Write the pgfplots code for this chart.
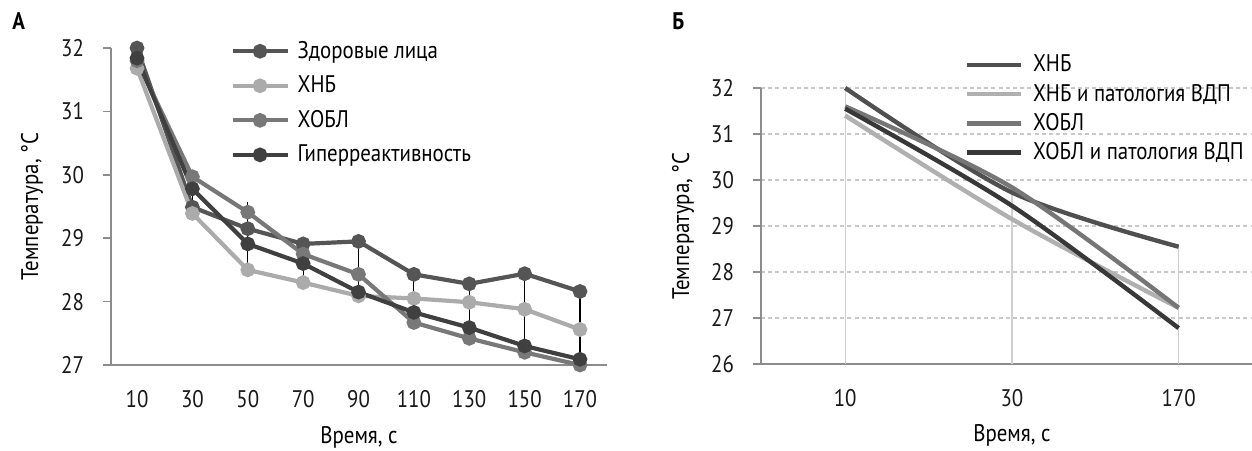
\documentclass[border=0pt]{standalone}
\usepackage{pgfplots}
\pgfplotsset{compat=1.18}
\usepackage{fontspec}
\setmainfont{PT Sans}[FakeStretch=0.87]
\definecolor{axisgray}{HTML}{8C8C8C}
\definecolor{gridgray}{HTML}{C8C8C8}
\definecolor{dropgray}{HTML}{D0D0D0}
\definecolor{cHealthy}{HTML}{555555}
\definecolor{cHNB}{HTML}{ABABAB}
\definecolor{cCOPD}{HTML}{787878}
\definecolor{cHyper}{HTML}{404040}
\definecolor{rHNB}{HTML}{505050}
\definecolor{rHNBv}{HTML}{B0B0B0}
\definecolor{rCOPD}{HTML}{767676}
\definecolor{rCOPDv}{HTML}{383838}
\newcommand{\chartfont}{\fontsize{12}{14}\selectfont}
\pgfplotsset{
  common/.style={
    scale only axis,
    anchor=south west,
    axis x line=bottom, axis y line=left,
    axis line style={-, draw=axisgray, line width=0.8pt},
    tick align=outside,
    major tick length=4pt,
    x tick style={draw=none},
    y tick style={draw=axisgray, line width=0.8pt},
    /pgf/number format/assume math mode=true,
    tick label style={font=\chartfont, text=black!90},
    xticklabel style={yshift=-5pt},
    yticklabel style={xshift=-6pt},
    label style={font=\chartfont, text=black!90},
    legend cell align=left,
  },
}
\begin{document}
\begin{tikzpicture}[font=\chartfont]
\useasboundingbox (0,0) rectangle (626pt,225pt);
\node[anchor=base west, inner sep=0pt, font=\chartfont\bfseries] at (6pt,210pt) {А};
\node[anchor=base west, inner sep=0pt, font=\chartfont\bfseries] at (336pt,210pt) {Б};

% ---------- Panel A ----------
\begin{axis}[common,
  at={(55.5pt,42.5pt)}, width=248pt, height=158.5pt,
  xmin=0.6, xmax=179.75, ymin=27, ymax=32,
  xtick={10,30,50,70,90,110,130,150,170},
  ytick={27,28,29,30,31,32},
  clip=false,
  every axis y label/.style={at={(axis description cs:-0.159,0.5)}, rotate=90, anchor=center},
  every axis x label/.style={at={(axis description cs:0.5,-0.228)}, anchor=center},
  ylabel={Температура, °C},
  xlabel={Время, с},
  legend style={at={(0.24,1.029)}, anchor=north west, draw=none, fill=none,
    font=\chartfont, row sep=5.3pt, inner sep=0pt,
    nodes={inner sep=1pt},
    /tikz/every odd column/.append style={column sep=3pt}},
  legend image code/.code={\draw[#1, mark repeat=2, mark phase=2] plot coordinates {(0pt,0pt) (13.75pt,0pt) (27.5pt,0pt)};},
  every axis plot/.append style={line width=2.1pt, mark=*, mark size=2.6pt},
]
\addplot[cHealthy, mark options={fill=cHealthy, draw=cHealthy}] coordinates {
 (10,32.00) (30,29.49) (50,29.15) (70,28.91) (90,28.95) (110,28.43) (130,28.28) (150,28.44) (170,28.16)};
\addlegendentry{Здоровые лица}
\addplot[cHNB, mark options={fill=cHNB, draw=cHNB}] coordinates {
 (10,31.68) (30,29.39) (50,28.50) (70,28.30) (90,28.09) (110,28.05) (130,27.99) (150,27.88) (170,27.56)};
\addlegendentry{ХНБ}
\addplot[cCOPD, mark options={fill=cCOPD, draw=cCOPD}] coordinates {
 (10,31.80) (30,29.97) (50,29.41) (70,28.75) (90,28.43) (110,27.67) (130,27.42) (150,27.20) (170,27.00)};
\addlegendentry{ХОБЛ}
\addplot[cHyper, mark options={fill=cHyper, draw=cHyper}] coordinates {
 (10,31.84) (30,29.78) (50,28.91) (70,28.60) (90,28.15) (110,27.83) (130,27.59) (150,27.30) (170,27.09)};
\addlegendentry{Гиперреактивность}
% range bars
\addplot[draw=none, mark=none, forget plot,
  error bars/.cd, y dir=plus, y explicit, error mark=none,
  error bar style={black, line width=0.6pt}] coordinates {
 (10,31.72) += (0,0.28)
 (30,29.42) += (0,0.50)
 (50,28.49) += (0,1.08)
 (70,28.33) += (0,0.50)
 (90,28.12) += (0,0.83)
 (110,27.67) += (0,0.76)
 (130,27.43) += (0,0.85)
 (150,27.20) += (0,1.24)
 (170,27.00) += (0,1.16)};
\end{axis}

% ---------- Panel B ----------
\begin{axis}[common,
  at={(380.5pt,43pt)}, width=245.5pt, height=138pt,
  xmin=-0.505, xmax=2.44, ymin=26, ymax=32,
  xtick={0,1,2}, xticklabels={10,30,170},
  ytick={26,27,28,29,30,31,32},
  ymajorgrids,
  grid style={gridgray, line width=0.6pt, dash pattern=on 2pt off 1.6pt},
  clip=false,
  every axis y label/.style={at={(axis description cs:-0.159,0.5)}, rotate=90, anchor=center},
  every axis x label/.style={at={(axis description cs:0.511,-0.26)}, anchor=center},
  ylabel={Температура, °C},
  xlabel={Время, с},
  legend style={at={(0.414,1.128)}, anchor=north west, draw=none, fill=none,
    font=\chartfont, row sep=2.6pt, inner sep=0pt,
    nodes={inner sep=1pt},
    /tikz/every odd column/.append style={column sep=4pt}},
  legend image code/.code={\draw[#1] plot coordinates {(0pt,0pt) (27pt,0pt)};},
  every axis plot/.append style={line width=2.2pt, mark=none},
]
% drop lines
\addplot[draw=none, forget plot,
  error bars/.cd, y dir=minus, y explicit, error mark=none,
  error bar style={dropgray, line width=0.7pt}] coordinates {
 (0,32.00) -= (0,6.00)
 (1,29.85) -= (0,3.85)
 (2,28.55) -= (0,2.55)};
\addplot[rHNB, smooth] coordinates {(0,32.00) (1,29.73) (2,28.55)};
\addlegendentry{ХНБ}
\addplot[rHNBv, smooth] coordinates {(0,31.40) (1,29.15) (2,27.22)};
\addlegendentry{ХНБ и патология ВДП}
\addplot[rCOPD, smooth] coordinates {(0,31.60) (1,29.84) (2,27.22)};
\addlegendentry{ХОБЛ}
\addplot[rCOPDv, smooth] coordinates {(0,31.55) (1,29.44) (2,26.78)};
\addlegendentry{ХОБЛ и патология ВДП}
\end{axis}
\end{tikzpicture}
\end{document}
